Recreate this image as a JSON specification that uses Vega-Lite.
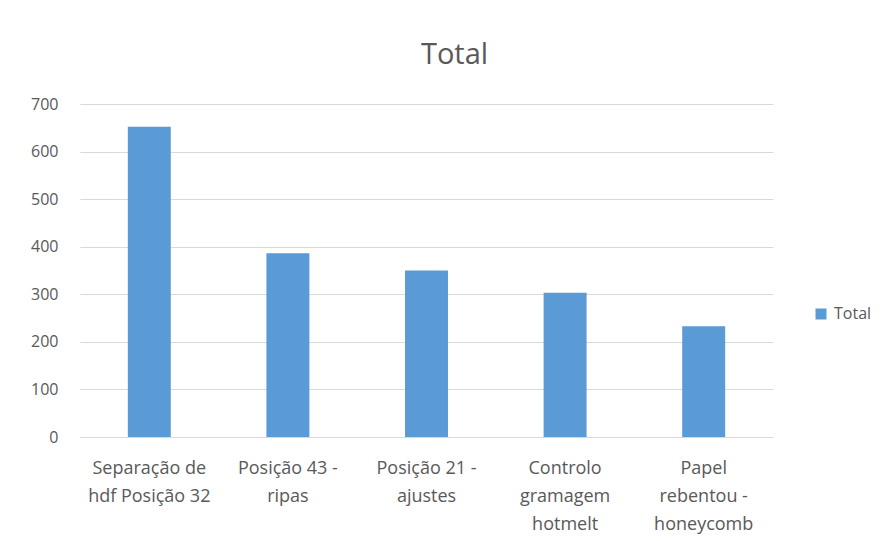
{
  "$schema": "https://vega.github.io/schema/vega-lite/v6.json",
  "width": 693,
  "height": 333,
  "autosize": {"type": "none"},
  "padding": {"left": 80, "top": 104, "right": 116, "bottom": 104},
  "background": "white",
  "title": {
    "text": "Total",
    "font": "Open Sans",
    "fontSize": 29,
    "fontWeight": "normal",
    "color": "#595959",
    "anchor": "middle",
    "frame": "group",
    "baseline": "alphabetic",
    "dx": 28,
    "offset": 3
  },
  "data": {
    "values": [
      {"causa": "Separação de\nhdf Posição 32", "total": 652},
      {"causa": "Posição 43 -\nripas", "total": 386},
      {"causa": "Posição 21 -\najustes", "total": 350},
      {"causa": "Controlo\ngramagem\nhotmelt", "total": 303},
      {"causa": "Papel\nrebentou -\nhoneycomb", "total": 233}
    ]
  },
  "mark": {"type": "bar", "color": "#5B9BD5"},
  "encoding": {
    "x": {
      "field": "causa",
      "type": "nominal",
      "sort": null,
      "scale": {"paddingInner": 0.69, "paddingOuter": 0.345},
      "axis": {
        "title": null,
        "labelAngle": 0,
        "domain": false,
        "ticks": false,
        "labelPadding": 22,
        "labelFont": "Open Sans",
        "labelFontSize": 18,
        "labelColor": "#595959",
        "labelLineHeight": 28,
        "labelLimit": 0,
        "labelExpr": "split(datum.label, '\\n')"
      }
    },
    "y": {
      "field": "total",
      "type": "quantitative",
      "scale": {"domain": [0, 700], "nice": false},
      "axis": {
        "title": null,
        "values": [0, 100, 200, 300, 400, 500, 600, 700],
        "domain": false,
        "ticks": false,
        "labelPadding": 22,
        "labelFont": "Open Sans",
        "labelFontSize": 16,
        "labelColor": "#595959",
        "gridColor": "#D9D9D9",
        "gridWidth": 1.2
      }
    },
    "color": {
      "datum": "Total",
      "scale": {"range": ["#5B9BD5"]},
      "legend": {
        "title": null,
        "orient": "none",
        "legendX": 733,
        "legendY": 202,
        "padding": 0,
        "symbolType": "square",
        "symbolSize": 121,
        "symbolStrokeWidth": 0,
        "labelFont": "Open Sans",
        "labelFontSize": 16,
        "labelColor": "#595959",
        "labelOffset": 5
      }
    }
  },
  "config": {
    "view": {"stroke": null}
  }
}
